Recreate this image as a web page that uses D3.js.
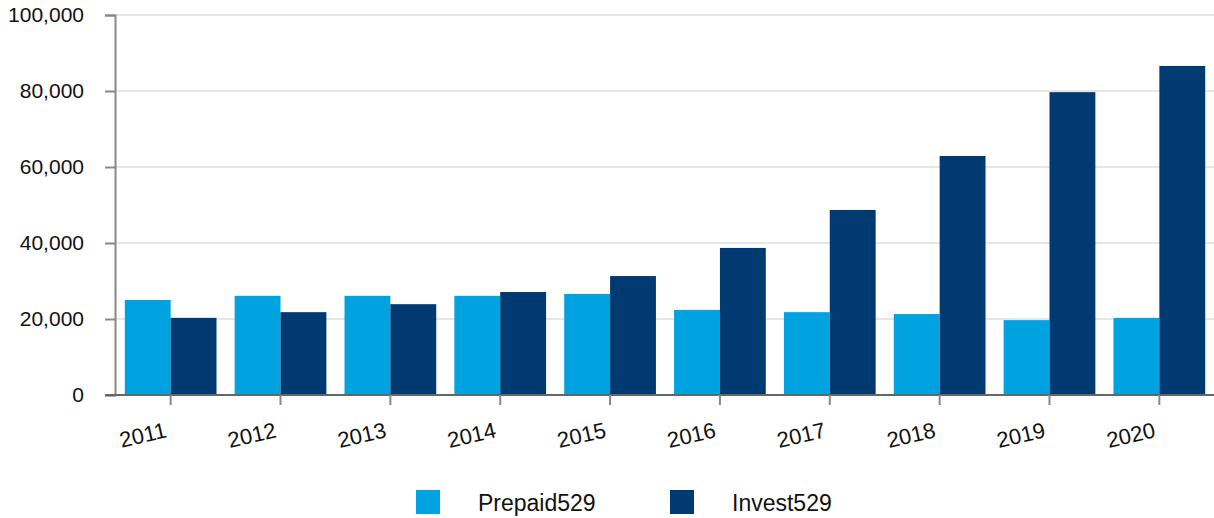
<!DOCTYPE html>
<html>
<head>
<meta charset="utf-8">
<script src="https://cdn.jsdelivr.net/npm/d3@7"></script>
<style>
  body { margin: 0; background: #fff; }
  text { font-family: "Liberation Sans", Arial, sans-serif; fill: #111; }
</style>
</head>
<body>
<svg width="1214" height="518"></svg>
<script>
'use strict';

// chart data
var years = ['2011', '2012', '2013', '2014', '2015', '2016', '2017', '2018', '2019', '2020'];
var seriesNames = ['Prepaid529', 'Invest529'];
var prepaid = [25000, 26100, 26100, 26100, 26600, 22400, 21800, 21300, 19700, 20300];
var invest = [20300, 21800, 23900, 27100, 31300, 38700, 48700, 62900, 79700, 86600];
var yTicks = [0, 20000, 40000, 60000, 80000, 100000];
var colors = ['#00a3e0', '#003a70'];

var svg = d3.select('svg');

// scales
var x0 = d3.scaleBand().domain(years).range([116, 1214])
    .paddingInner(0.165).paddingOuter(0.08);
var x1 = d3.scaleBand().domain(seriesNames).range([0, x0.bandwidth()]);
var y = d3.scaleLinear().domain([0, 100000]).range([395, 15]);

// grid lines
svg.append('g').selectAll('line')
    .data(yTicks.slice(1))
    .enter().append('line')
    .attr('x1', 115).attr('x2', 1214)
    .attr('y1', function(d) { return y(d); })
    .attr('y2', function(d) { return y(d); })
    .attr('stroke', '#e6e6e6').attr('stroke-width', 2);

// bars
var rows = years.map(function(yr, i) {
    return {year: yr, values: [prepaid[i], invest[i]]};
});
var group = svg.append('g').selectAll('g')
    .data(rows)
    .enter().append('g')
    .attr('transform', function(d) { return 'translate(' + x0(d.year) + ',0)'; });
group.selectAll('rect')
    .data(function(d) { return d.values.map(function(v, j) { return {key: seriesNames[j], value: v, j: j}; }); })
    .enter().append('rect')
    .attr('x', function(d) { return x1(d.key); })
    .attr('y', function(d) { return y(d.value); })
    .attr('width', x1.bandwidth())
    .attr('height', function(d) { return y(0) - y(d.value); })
    .attr('fill', function(d) { return colors[d.j]; });

// y axis
var yAxis = svg.append('g')
    .attr('transform', 'translate(115,0)')
    .call(d3.axisLeft(y).tickValues(yTicks).tickSize(10).tickPadding(21)
        .tickFormat(d3.format(',')));
yAxis.select('.domain').attr('stroke', '#888').attr('stroke-width', 2);
yAxis.selectAll('.tick line').attr('stroke', '#888').attr('stroke-width', 2);
yAxis.selectAll('text').style('font-size', '21px').attr('fill', '#111');

// x axis
var xAxis = svg.append('g')
    .attr('transform', 'translate(0,395)')
    .call(d3.axisBottom(x0).tickSize(10).tickSizeOuter(0));
xAxis.select('.domain').attr('stroke', '#666').attr('stroke-width', 2)
    .attr('d', 'M105,0H1214');
xAxis.selectAll('.tick line').attr('stroke', '#888').attr('stroke-width', 2);
xAxis.selectAll('text')
    .style('font-size', '22px').attr('fill', '#111')
    .attr('text-anchor', 'end')
    .attr('dy', 0).attr('y', 0)
    .attr('transform', 'translate(-3,42) rotate(-13)');

// legend
var legend = svg.append('g');
var legendX = [416, 670];
seriesNames.forEach(function(name, i) {
    legend.append('rect')
        .attr('x', legendX[i]).attr('y', 490)
        .attr('width', 24).attr('height', 24)
        .attr('fill', colors[i]);
    legend.append('text')
        .attr('x', legendX[i] + 62).attr('y', 511)
        .style('font-size', '23px')
        .text(name);
});
</script>
</body>
</html>
